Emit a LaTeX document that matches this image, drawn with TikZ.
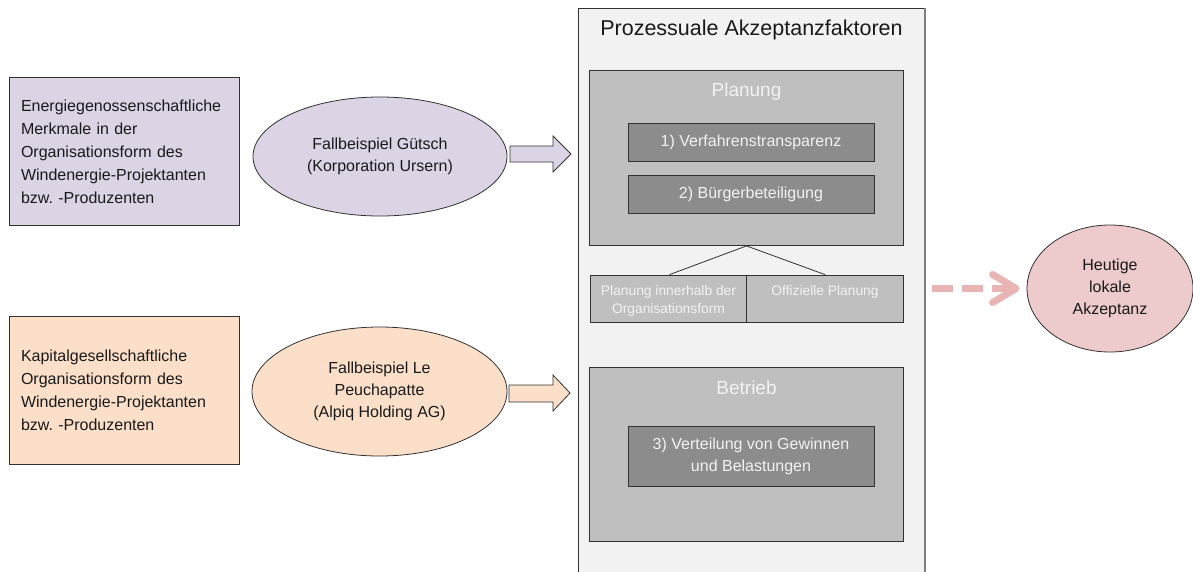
\documentclass[tikz,border=0pt]{standalone}
\usepackage{fontspec}
\setmainfont{Liberation Sans}
\usetikzlibrary{shapes.geometric,arrows.meta,calc}
\definecolor{lav}{RGB}{220,211,228}
\definecolor{peach}{RGB}{251,223,201}
\definecolor{rose}{RGB}{237,202,203}
\definecolor{dashc}{RGB}{232,180,180}
\definecolor{edge}{RGB}{50,50,50}
\definecolor{contc}{RGB}{242,242,242}
\definecolor{midg}{RGB}{191,191,191}
\definecolor{darkg}{RGB}{140,140,140}
\definecolor{txt}{RGB}{26,26,26}
\frenchspacing
\begin{document}
\begin{tikzpicture}[x=1pt,y=-1pt,
  every node/.style={text=txt},
  leftbox/.style={draw=edge, line width=0.8pt, rectangle, inner xsep=12pt, inner ysep=0pt,
    text width=206pt, minimum height=148pt, align=left, font=\fontsize{16}{23}\selectfont},
  casee/.style={draw=edge, line width=0.8pt, ellipse, inner sep=0pt, align=center,
    font=\fontsize{16}{22}\selectfont},
  grp/.style={draw=edge, line width=0.8pt, fill=midg, rectangle, inner sep=0pt},
  grptitle/.style={text=contc, font=\fontsize{19}{22}\selectfont},
  fac/.style={draw=edge, line width=0.8pt, fill=darkg, text=contc, align=center, inner sep=0pt,
    minimum width=246pt, font=\fontsize{16}{22}\selectfont},
  sub/.style={draw=edge, line width=0.8pt, fill=midg, inner sep=0pt, minimum width=157pt,
    minimum height=47pt},
  subtext/.style={text=contc, align=center, font=\fontsize{13.8}{18}\selectfont},
  blockarrow/.style={draw=edge, line width=0.8pt},
]
\useasboundingbox (0,0) rectangle (1193,571);

% left boxes
\node[leftbox, fill=lav] (b1) at (124,151.5) {Energiegenossenschaftliche\\Merkmale in der\\Organisationsform des\\Windenergie-Projektanten\\bzw. -Produzenten};
\node[leftbox, fill=peach] (b2) at (124,390) {Kapitalgesellschaftliche\\Organisationsform des\\Windenergie-Projektanten\\bzw. -Produzenten};

% case ellipses
\node[casee, fill=lav, minimum width=254pt, minimum height=119pt] (e1) at (380,156.5) {Fallbeispiel Gütsch\\(Korporation Ursern)};
\node[casee, fill=peach, minimum width=255pt, minimum height=129pt] (e2) at (379.5,391.5) {Fallbeispiel Le\\Peuchapatte\\(Alpiq Holding AG)};

% container
\fill[contc] (578,8) rectangle (925,580);
\draw[edge, line width=0.8pt] (925,580) -- (578,580) -- (578,8) -- (925,8);
\draw[gray, line width=2pt] (925,8) -- (925,580);
\node[font=\fontsize{21.5}{24}\selectfont] (title) at (751.5,30) {Prozessuale Akzeptanzfaktoren};

% block arrows
\draw[blockarrow, fill=lav] (510,146) -- (553,146) -- (553,136) -- (571,154) -- (553,172) -- (553,162) -- (510,162) -- cycle;
\draw[blockarrow, fill=peach] (509,385) -- (553,385) -- (553,375) -- (570,393) -- (553,411) -- (553,402) -- (509,402) -- cycle;

% Planung group
\node[grp, minimum width=314pt, minimum height=175pt] (plan) at (746.5,158) {};
\node[grptitle] (plant) at (746.5,92) {Planung};
\node[fac, minimum height=38pt] (f1) at (751,142.5) {1) Verfahrenstransparenz};
\node[fac, minimum height=38pt] (f2) at (751,194) {2) Bürgerbeteiligung};

% sub boxes
\node[sub] (s1) at (668.5,298.5) {};
\node[sub] (s2) at (825,298.5) {};
\node[subtext] (s1t) at (668.5,300.5) {Planung innerhalb der\\Organisationsform};
\node[subtext] (s2t) at (825,292) {Offizielle Planung};
\draw[edge, line width=0.8pt] (plan.south) -- ($(s1.north)+(1,0)$);
\draw[edge, line width=0.8pt] (plan.south) -- (s2.north);

% Betrieb group
\node[grp, minimum width=314pt, minimum height=174pt] (betr) at (746.5,454) {};
\node[grptitle] (betrt) at (746.5,388) {Betrieb};
\node[fac, minimum height=60pt] (f3) at (751,456) {3) Verteilung von Gewinnen\\und Belastungen};

% result
\node[casee, fill=rose, minimum width=166pt, minimum height=127pt] (res) at (1110,288.5) {Heutige\\lokale\\Akzeptanz};
\coordinate (dstart) at (932,288.5);
\draw[dashc, line width=7pt, dash pattern=on 21pt off 9pt] (dstart) -- ([xshift=-12pt]res.west);
\draw[dashc, line width=7pt, line cap=round, line join=round]
  ([xshift=-34pt,yshift=-14pt]res.west) -- ([xshift=-10.5pt]res.west) -- ([xshift=-34pt,yshift=14pt]res.west);
\end{tikzpicture}
\end{document}
